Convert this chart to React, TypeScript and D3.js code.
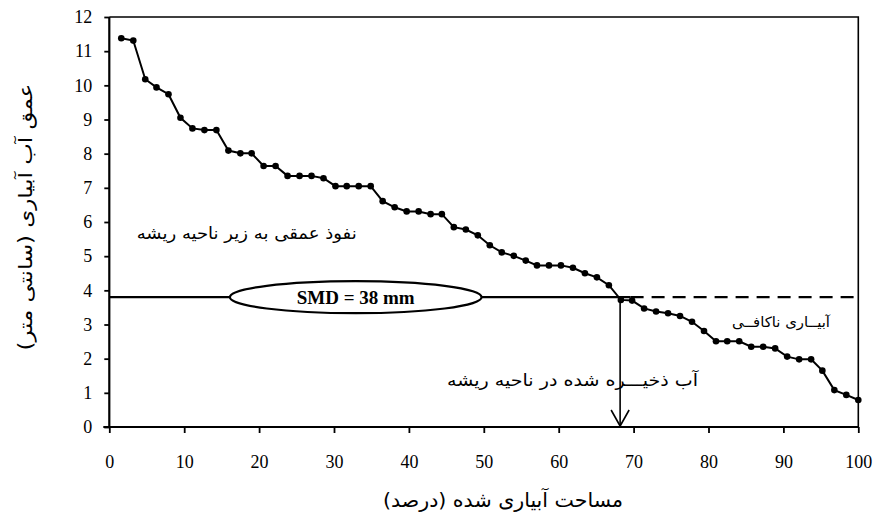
import React, { useRef, useEffect } from 'react';
import * as d3 from 'd3';

// irrigated area (%) for each ranked catch-can reading
const areaPct = [
  1.6, 3.2, 4.8, 6.3, 7.9, 9.5, 11.1, 12.7, 14.3, 15.9, 17.5, 19.0, 20.6, 22.2, 23.8, 25.4,
  27.0, 28.6, 30.2, 31.7, 33.3, 34.9, 36.5, 38.1, 39.7, 41.3, 42.9, 44.4, 46.0, 47.6, 49.2,
  50.8, 52.4, 54.0, 55.6, 57.1, 58.7, 60.3, 61.9, 63.5, 65.1, 66.7, 68.3, 69.8, 71.4, 73.0,
  74.6, 76.2, 77.8, 79.4, 81.0, 82.5, 84.1, 85.7, 87.3, 88.9, 90.5, 92.1, 93.7, 95.2, 96.8,
  98.4, 100,
];

// applied water depth (cm)
const depthCm = [
  11.38, 11.31, 10.18, 9.94, 9.74, 9.05, 8.74, 8.69, 8.69, 8.09, 8.01, 8.01, 7.64, 7.64, 7.35,
  7.35, 7.35, 7.28, 7.05, 7.05, 7.05, 7.05, 6.61, 6.43, 6.31, 6.31, 6.23, 6.23, 5.85, 5.78,
  5.61, 5.32, 5.11, 5.01, 4.87, 4.73, 4.73, 4.73, 4.66, 4.5, 4.38, 4.15, 3.72, 3.7, 3.47,
  3.38, 3.33, 3.25, 3.08, 2.81, 2.51, 2.51, 2.51, 2.35, 2.35, 2.3, 2.06, 1.98, 1.98, 1.65,
  1.08, 0.94, 0.79,
];

const xTicks = [0, 10, 20, 30, 40, 50, 60, 70, 80, 90, 100];
const yTicks = [0, 1, 2, 3, 4, 5, 6, 7, 8, 9, 10, 11, 12];

const smdDepth = 3.8; // cm
const smdLabel = 'SMD = 38 mm';
const crossArea = 68.2; // where the curve crosses SMD
const dashStart = 69.6;

const xTitle = 'مساحت آبیاری شده (درصد)';
const yTitle = 'عمق آب آبیاری (سانتی متر)';
const deepText = 'نفوذ عمقی به زیر ناحیه ریشه';
const storedText = 'آب ذخیـــره شده در ناحیه ریشه';
const deficitText = 'آبیــاری ناکافــی';

const serif = '"Liberation Serif", "Times New Roman", serif';
const persian = '"DejaVu Sans", sans-serif';

const App: React.FC = () => {
  const svgRef = useRef<SVGSVGElement | null>(null);
  const width = 874;
  const height = 516;
  const margin = { top: 17, right: 15.7, bottom: 89, left: 109.3 };

  useEffect(() => {
    const svg = d3.select(svgRef.current);
    svg.selectAll('*').remove();

    const x = d3.scaleLinear().domain([0, 100]).range([margin.left, width - margin.right]);
    const y = d3.scaleLinear().domain([0, 12]).range([height - margin.bottom, margin.top]);

    svg.append('rect').attr('width', width).attr('height', height).attr('fill', '#fff');

    // frame top/right
    svg.append('path')
      .attr('d', `M${x(0)},${y(12)}H${x(100)}V${y(0)}`)
      .attr('fill', 'none')
      .attr('stroke', '#000')
      .attr('stroke-width', 1.6);

    const yAxis = svg.append('g')
      .attr('transform', `translate(${x(0)},0)`)
      .call(d3.axisLeft(y).tickValues(yTicks).tickSize(5).tickPadding(12).tickFormat(d3.format('d')));
    const xAxis = svg.append('g')
      .attr('transform', `translate(0,${y(0)})`)
      .call(d3.axisBottom(x).tickValues(xTicks).tickSize(6).tickPadding(22).tickFormat(d3.format('d')));

    [yAxis, xAxis].forEach((g) => {
      g.select('.domain').attr('stroke-width', 2.2);
      g.selectAll('.tick line').attr('stroke-width', 1.8);
      g.selectAll('.tick text').style('font-family', serif).style('font-size', '18px').attr('fill', '#000');
    });
    yAxis.select('.domain').attr('d', `M0,${y(12)}V${y(0)}`);
    xAxis.select('.domain').attr('d', `M${x(0) - 6},0H${x(100)}`);

    // SMD line
    svg.append('line')
      .attr('x1', x(0)).attr('x2', x(dashStart))
      .attr('y1', y(smdDepth)).attr('y2', y(smdDepth))
      .attr('stroke', '#000').attr('stroke-width', 2.4);
    svg.append('line')
      .attr('x1', x(dashStart)).attr('x2', x(100))
      .attr('y1', y(smdDepth)).attr('y2', y(smdDepth))
      .attr('stroke', '#000').attr('stroke-width', 2.4)
      .attr('stroke-dasharray', '13,8');

    // ellipse label
    const ex = (x(16.1) + x(49.7)) / 2;
    svg.append('ellipse')
      .attr('cx', ex).attr('cy', y(smdDepth))
      .attr('rx', (x(49.7) - x(16.1)) / 2).attr('ry', 16)
      .attr('fill', '#fff').attr('stroke', '#000').attr('stroke-width', 2.2);
    svg.append('text')
      .attr('x', ex).attr('y', y(smdDepth))
      .attr('dy', '0.35em')
      .attr('text-anchor', 'middle')
      .style('font-family', serif).style('font-size', '19px').style('font-weight', 'bold')
      .text(smdLabel);

    // arrow down to x axis
    const ax = x(crossArea);
    svg.append('line')
      .attr('x1', ax).attr('x2', ax)
      .attr('y1', y(smdDepth)).attr('y2', y(0) - 1)
      .attr('stroke', '#000').attr('stroke-width', 1.6);
    svg.append('path')
      .attr('d', `M${ax - 9},${y(0) - 17}L${ax},${y(0) - 1}L${ax + 9},${y(0) - 17}`)
      .attr('fill', 'none').attr('stroke', '#000').attr('stroke-width', 1.6);

    // data curve
    const pts = areaPct.map((a, i) => [a, depthCm[i]] as [number, number]);
    const line = d3.line<[number, number]>().x((d) => x(d[0])).y((d) => y(d[1]));
    svg.append('path')
      .datum(pts)
      .attr('d', line)
      .attr('fill', 'none').attr('stroke', '#000').attr('stroke-width', 2);
    svg.append('g').selectAll('circle')
      .data(pts)
      .join('circle')
      .attr('cx', (d) => x(d[0]))
      .attr('cy', (d) => y(d[1]))
      .attr('r', 3.3)
      .attr('fill', '#000');

    // annotations
    const note = (t: string, cx: number, cy: number, size: number, len: number) =>
      svg.append('text')
        .attr('x', cx).attr('y', cy).attr('dy', '0.35em')
        .attr('text-anchor', 'middle')
        .attr('textLength', len)
        .attr('lengthAdjust', 'spacingAndGlyphs')
        .style('font-family', persian).style('font-size', `${size}px`)
        .text(t);
    note(deepText, 246.7, 233, 17, 220);
    note(storedText, 572.5, 380, 17, 251);
    note(deficitText, 781, 322, 14, 98);

    note(xTitle, 503, 500, 20, 240);
    svg.append('text')
      .attr('transform', `translate(25,217) rotate(-90)`)
      .attr('dy', '0.35em')
      .attr('text-anchor', 'middle')
      .attr('textLength', 267)
      .attr('lengthAdjust', 'spacingAndGlyphs')
      .style('font-family', persian).style('font-size', '19px')
      .text(yTitle);
  }, []);

  return (
    <svg
      ref={svgRef}
      width={width}
      height={height}
      style={{ position: 'absolute', left: 0, top: 0 }}
    ></svg>
  );
};

export default App;
